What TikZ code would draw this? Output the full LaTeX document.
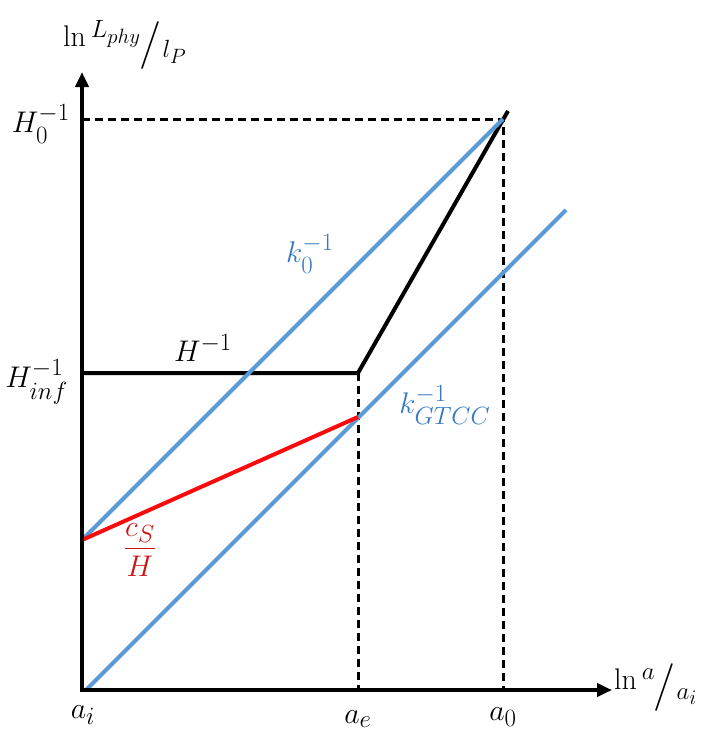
\documentclass[tikz,border=0pt]{standalone}
\usepackage{amsmath}
\usepackage{graphicx}
\usetikzlibrary{arrows.meta}
\definecolor{lblue}{RGB}{91,155,213}
\definecolor{tblue}{RGB}{52,120,190}
\definecolor{lred}{RGB}{250,10,10}
\definecolor{tred}{RGB}{205,20,20}
\tikzset{
  axis/.style={line width=4pt,-{Triangle[length=15pt,width=13pt]}},
  guide/.style={line width=3pt,dash pattern=on 8pt off 5pt},
  hline/.style={line width=4pt,black},
  kline/.style={line width=4pt,lblue},
  csline/.style={line width=4pt,lred},
  lab/.style={inner sep=0pt,font=\Huge},
}
\newcommand{\lbl}[1]{\scalebox{1.2}{#1}}
\newcommand{\slfrac}[2]{\raisebox{8pt}{$\scriptstyle #1$}\kern-1pt\raisebox{-9pt}{\scalebox{1.6}{/}}\kern1pt\raisebox{-9pt}{$\scriptstyle #2$}}
\begin{document}
\begin{tikzpicture}[x=1pt,y=-1pt]
\useasboundingbox (0,0) rectangle (709,742);
% coordinates
\coordinate (O) at (82,690);
\coordinate (ytop) at (82,72);
\coordinate (xend) at (612,690);
\coordinate (H0y) at (82,119);
\coordinate (P0) at (503,119);
\coordinate (P0b) at (503,690);
\coordinate (Pe) at (358,373);
\coordinate (Peb) at (358,690);
\coordinate (Hinf) at (82,373);
\coordinate (Htop) at (508,111);
\coordinate (Ki) at (82,540);
\coordinate (Gs) at (86,690);
\coordinate (Ge) at (566,210);
\coordinate (Re) at (358,417);
% guides
\draw[guide] (H0y) -- (P0) -- (P0b);
\draw[guide] (Pe) -- (Peb);
% Hubble radius
\draw[hline,line join=round] (Hinf) -- (Pe) -- (Htop);
% modes
\draw[kline] (Ki) -- (P0);
\draw[kline] (Gs) -- (Ge);
\draw[csline] (Ki) -- (Re);
% axes
\draw[axis] (O) -- (ytop);
\draw[axis] ([xshift=-2pt]O) -- (xend);
% labels
\node[lab,anchor=west] (ylab) at (63,45) {\lbl{ln\,\slfrac{L_{phy}}{l_P}}};
\node[lab,anchor=west] (xlab) at (614,688) {\lbl{ln\,\slfrac{a}{a_i}}};
\node[lab,anchor=east] (lH0) at (70,124) {\lbl{$H_0^{-1}$}};
\node[lab,anchor=east] (lHi) at (68,382) {\lbl{$H_{inf}^{-1}$}};
\node[lab] (lH) at (203,348) {\lbl{$H^{-1}$}};
\node[lab,text=tblue] (lk0) at (310,254) {\lbl{$k_0^{-1}$}};
\node[lab,text=tblue] (lkg) at (445,405) {\lbl{$k_{GTCC}^{-1}$}};
\node[lab,text=tred] (lcs) at (140,550) {\lbl{$\dfrac{c_S}{H}$}};
\node[lab] (lai) at (83,715) {\lbl{$a_i$}};
\node[lab] (lae) at (358,719) {\lbl{$a_e$}};
\node[lab] (la0) at (503,717) {\lbl{$a_0$}};
\end{tikzpicture}
\end{document}
